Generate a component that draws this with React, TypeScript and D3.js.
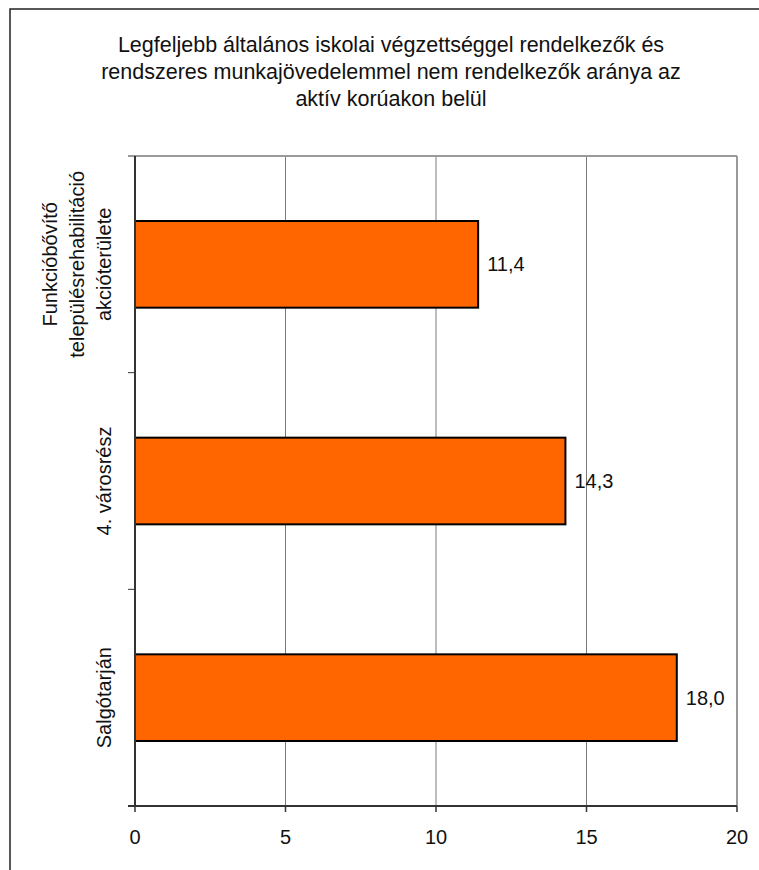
import React from "react";
import * as d3 from "d3";

const titleLines = [
  "Legfeljebb általános iskolai végzettséggel rendelkezők és",
  "rendszeres munkajövedelemmel nem rendelkezők aránya az",
  "aktív korúakon belül",
];
const categories = [
  ["Funkcióbővítő", "településrehabilitáció", "akcióterülete"],
  ["4. városrész"],
  ["Salgótarján"],
];
const values = [11.4, 14.3, 18.0];
const xTicks = [0, 5, 10, 15, 20];

const W = 759;
const H = 870;
const plot = { left: 135, right: 737, top: 156, bottom: 806 };
const font = "Arial, 'Liberation Sans', sans-serif";

export default function App() {
  const x = d3.scaleLinear().domain([0, 20]).range([plot.left, plot.right]);
  const y = d3
    .scaleBand<number>()
    .domain(d3.range(categories.length))
    .range([plot.top, plot.bottom])
    .paddingInner(0.6)
    .paddingOuter(0.3);
  const band = d3
    .scaleBand<number>()
    .domain(d3.range(categories.length))
    .range([plot.top, plot.bottom]);
  const fmt = (v: number) => v.toFixed(1).replace(".", ",");
  const catBounds = d3.range(categories.length + 1).map((i) =>
    i < categories.length ? (band(i) as number) : plot.bottom
  );

  return (
    <svg
      width={W}
      height={H}
      style={{ position: "absolute", left: 0, top: 0, background: "#fff" }}
      fontFamily={font}
    >
      <rect x={10} y={9} width={900} height={1000} fill="#fff" stroke="#222" strokeWidth={1.5} />
      {titleLines.map((t, i) => (
        <text key={i} x={391} y={52 + i * 27} textAnchor="middle" fontSize={21.5} fill="#111">
          {t}
        </text>
      ))}
      {/* gridlines */}
      {xTicks.slice(1, -1).map((t) => (
        <line key={t} x1={x(t)} x2={x(t)} y1={plot.top} y2={plot.bottom} stroke="#7a7a7a" strokeWidth={1} />
      ))}
      {/* top & right border */}
      <line x1={plot.left} x2={plot.right} y1={plot.top} y2={plot.top} stroke="#9a9a9a" strokeWidth={2} />
      <line x1={plot.right} x2={plot.right} y1={plot.top} y2={plot.bottom} stroke="#9a9a9a" strokeWidth={2} />
      {/* bars */}
      {values.map((v, i) => (
        <g key={i}>
          <rect
            x={x(0)}
            y={y(i)}
            width={x(v) - x(0)}
            height={y.bandwidth()}
            fill="#FF6600"
            stroke="#000"
            strokeWidth={2}
          />
          <text
            x={x(v) + 9}
            y={(y(i) as number) + y.bandwidth() / 2}
            dy="0.35em"
            fontSize={20}
            fill="#111"
          >
            {fmt(v)}
          </text>
        </g>
      ))}
      {/* left axis */}
      <line x1={plot.left} x2={plot.left} y1={plot.top} y2={plot.bottom} stroke="#333" strokeWidth={2} />
      {catBounds.map((b, i) => (
        <line key={i} x1={plot.left - 7} x2={plot.left} y1={b} y2={b} stroke="#333" strokeWidth={1} />
      ))}
      {/* bottom axis */}
      <line x1={plot.left - 7} x2={plot.right} y1={plot.bottom} y2={plot.bottom} stroke="#333" strokeWidth={2} />
      {xTicks.map((t) => (
        <g key={t}>
          <line x1={x(t)} x2={x(t)} y1={plot.bottom} y2={plot.bottom + 6} stroke="#333" strokeWidth={1.5} />
          <text x={x(t)} y={844} textAnchor="middle" fontSize={20} fill="#111">
            {t}
          </text>
        </g>
      ))}
      {/* category labels */}
      {categories.map((lines, i) => {
        const cy = (band(i) as number) + band.bandwidth() / 2;
        const n = lines.length;
        return (
          <text key={i} transform={`translate(0,${cy}) rotate(-90)`} textAnchor="middle" fontSize={20} fill="#111">
            {lines.map((l, j) => (
              <tspan key={j} x={0} y={111 - (n - 1 - j) * 27}>
                {l}
              </tspan>
            ))}
          </text>
        );
      })}
    </svg>
  );
}
